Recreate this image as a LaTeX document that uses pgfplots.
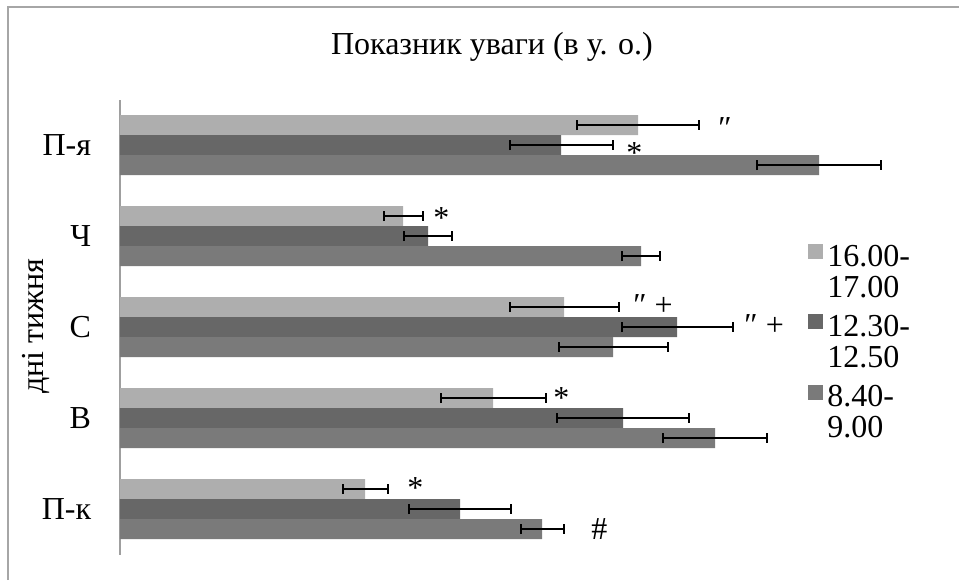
\documentclass[border=0pt]{standalone}
\usepackage{pgfplots}
\pgfplotsset{compat=1.18}
\usepackage{pgfplotstable}
\usepackage{fontspec}
\setmainfont{Liberation Serif}
\definecolor{cLight}{RGB}{174,174,174}
\definecolor{cDark}{RGB}{103,103,103}
\definecolor{cMed}{RGB}{122,122,122}
\pgfplotstableread{
y x e
0 2.45 0.225
1 3.73 0.525
2 4.44 0.545
3 2.83 0.195
4 5.18 0.61
}\lightdata
\pgfplotstableread{
y x e
0 3.40 0.51
1 5.03 0.66
2 5.57 0.555
3 3.08 0.24
4 4.41 0.515
}\darkdata
\pgfplotstableread{
y x e
0 4.22 0.215
1 5.95 0.52
2 4.93 0.545
3 5.21 0.19
4 6.99 0.62
}\meddata
\begin{document}
\begin{tikzpicture}[font=\fontsize{16}{19}\selectfont]
\path[use as bounding box] (0,0) rectangle (479.5pt,290pt);
\draw[gray!70, line width=0.6pt] (4pt,0) -- (4pt,286.5pt) -- (479.5pt,286.5pt);
\begin{axis}[
  at={(60pt,12.75pt)}, anchor=south west,
  scale only axis, width=400pt, height=227.5pt,
  xmin=0, xmax=8, ymin=-0.5, ymax=4.5,
  axis x line=none, axis y line=left,
  axis line style={draw=gray!75, line width=0.6pt, -},
  xbar, bar width=10pt,
  ytick={0,1,2,3,4}, yticklabels={П-к,В,С,Ч,П-я},
  ytick style={draw=none},
  yticklabel style={inner sep=0pt, xshift=-10pt, font=\fontsize{16}{19}\selectfont},
  ylabel={дні тижня},
  ylabel style={at={(axis description cs:-0.105,0.502)}, anchor=center, font=\fontsize{16}{19}\selectfont},
  clip=false,
  legend style={draw=none, fill=none, at={(axis description cs:0.86,0.69)}, anchor=north west,
    inner sep=0pt, row sep=3.5pt,
    cells={anchor=west, align=left, font=\fontsize{16}{15.5}\selectfont, xshift=2pt}},
  legend image code/.code={\fill[#1] (0pt,6.75pt) rectangle (7.5pt,14.25pt);},
  error bars/error bar style={line width=1pt, black},
  error bars/error mark options={rotate=90, line width=1pt, mark size=2.5pt, black},
]
\addplot[fill=cLight, draw=none, bar shift=10pt,
  error bars/.cd, x dir=both, x explicit]
  table[x=x, y=y, x error=e] {\lightdata};
\addlegendentry{16.00-\\17.00}
\addplot[fill=cDark, draw=none, bar shift=0pt,
  error bars/.cd, x dir=both, x explicit]
  table[x=x, y=y, x error=e] {\darkdata};
\addlegendentry{12.30-\\12.50}
\addplot[fill=cMed, draw=none, bar shift=-10pt,
  error bars/.cd, x dir=both, x explicit]
  table[x=x, y=y, x error=e] {\meddata};
\addlegendentry{8.40-\\9.00}
\begin{scope}[every node/.style={inner sep=0pt, anchor=base west, font=\fontsize{16}{19}\selectfont}]
\node at (axis cs:5.98,4.077) {″};
\node at (axis cs:5.06,3.802) {*};
\node at (axis cs:3.13,3.081) {*};
\node at (axis cs:5.13,2.121) {″ +};
\node at (axis cs:6.24,1.912) {″ +};
\node at (axis cs:4.33,1.103) {*};
\node at (axis cs:2.87,0.114) {*};
\node at (axis cs:4.71,-0.330) {\#};
\end{scope}
\end{axis}
\node[anchor=base] at (246pt,262.5pt) {Показник уваги (в у. о.)};
\end{tikzpicture}
\end{document}
